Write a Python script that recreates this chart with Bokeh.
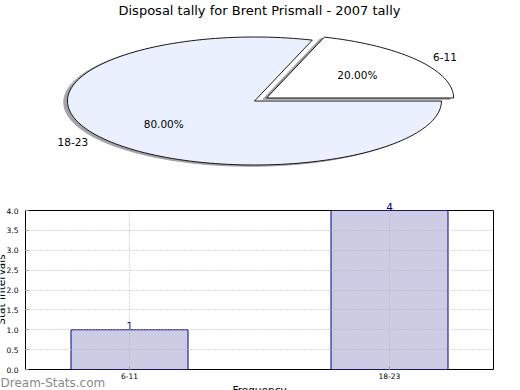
import math
from bokeh.plotting import figure
from bokeh.layouts import column
from bokeh.models import (Range1d, FactorRange, ColumnDataSource, Label,
                          SingleIntervalTicker, NumeralTickFormatter)
from bokeh.embed import file_html
from bokeh.resources import INLINE

# ---------------- data ----------------
title_text = "Disposal tally for Brent Prismall - 2007 tally"
pie_labels = ["6-11", "18-23"]
pie_values = [1, 4]
pie_colors = ["#ffffff", "#eaf0fd"]
pie_explode = [0.08, 0.0]

bar_categories = ["6-11", "18-23"]
bar_values = [1, 4]
y_min, y_max, y_step = 0.0, 4.0, 0.5
y_label = "Stat Intervals"
x_label = "Frequency"
watermark = "Dream-Stats.com"

FONT = "DejaVu Sans"
W, H = 520, 390

# ---------------- background figure: pie + free texts (pixel-like data units) ----------------
base = figure(width=W, height=H, x_range=Range1d(0, W), y_range=Range1d(H, 0),
              x_axis_location=None, y_axis_location=None,
              output_backend="svg", toolbar_location=None, min_border=0)
base.grid.visible = False
base.outline_line_color = None

cx, cy, rx, ry = 254.0, 100.5, 187.0, 64.0
total = float(sum(pie_values))
start = 0.0
sx, sy = -0.02 * rx, 0.02 * ry
for lab, v, col, ex in zip(pie_labels, pie_values, pie_colors, pie_explode):
    frac = v / total
    a0, a1 = start, start + 360.0 * frac
    mid = math.radians((a0 + a1) / 2)
    ox = cx + ex * rx * math.cos(mid)
    oy = cy - ex * ry * math.sin(mid)
    n = max(4, int((a1 - a0) / 2))
    ts = [math.radians(a0 + (a1 - a0) * i / n) for i in range(n + 1)]
    xs = [ox] + [ox + rx * math.cos(t) for t in ts] + [ox]
    ys = [oy] + [oy - ry * math.sin(t) for t in ts] + [oy]
    base.patch([x + sx for x in xs], [y + sy for y in ys], fill_color="#a4a4a6",
               line_color="#a4a4a6", line_width=1)
    base.patch(xs, ys, fill_color=col, line_color="#000000", line_width=0.9)
    lx = ox + 1.1 * rx * math.cos(mid)
    ly = oy - 1.1 * ry * math.sin(mid)
    base.add_layout(Label(x=lx, y=ly, text=lab, text_font=FONT, text_font_size="10.5px",
                          text_align="left" if math.cos(mid) > 0 else "right",
                          text_baseline="middle", text_color="#000000"))
    px = ox + 0.6 * rx * math.cos(mid)
    py = oy - 0.6 * ry * math.sin(mid)
    base.add_layout(Label(x=px, y=py, text="%.2f%%" % (100 * frac), text_font=FONT,
                          text_font_size="10.5px", text_align="center",
                          text_baseline="middle", text_color="#000000"))
    start = a1

base.add_layout(Label(x=259, y=10, text=title_text, text_font=FONT, text_font_size="13px",
                      text_align="center", text_baseline="middle", text_color="#000000"))

# ---------------- bar figure, overlaid on the same page area ----------------
BL, BR, BT, BB = 25, 27, 210, 21   # borders around the frame
PAD = 0.1                           # factor range padding (negative)
src = ColumnDataSource(dict(cat=bar_categories, val=bar_values))
bar = figure(width=W, height=H,
             x_range=FactorRange(factors=bar_categories, range_padding=-PAD,
                                 range_padding_units="absolute"),
             y_range=Range1d(y_min, y_max),
             output_backend="svg", toolbar_location=None,
             min_border_left=BL, min_border_right=BR, min_border_top=BT, min_border_bottom=BB,
             background_fill_color=None, border_fill_color=None, margin=(-H, 0, 0, 0))
bar.vbar(x="cat", top="val", width=0.45, source=src, fill_color="#ccccE5",
         line_color="#000080", line_width=1)

# do not align the two figures' frames (the background frame covers its whole canvas)
for fig in (base, bar):
    try:
        fig.frame_align = False
    except Exception:
        pass

bar.outline_line_color = "#000000"
bar.outline_line_width = 1
bar.yaxis.ticker = SingleIntervalTicker(interval=y_step)
bar.yaxis.formatter = NumeralTickFormatter(format="0.0")
for ax in (bar.xaxis[0], bar.yaxis[0]):
    ax.axis_line_color = None
    ax.major_tick_in = 3
    ax.major_tick_out = 0
    ax.major_tick_line_color = "#999999"
    ax.minor_tick_line_color = None
    ax.major_label_text_font = FONT
    ax.major_label_text_font_size = "7.5px"
    ax.major_label_text_color = "#000000"
    ax.major_label_standoff = 3
for g in (bar.xgrid[0], bar.ygrid[0]):
    g.grid_line_color = "#b4b4b4"
    g.grid_line_dash = "1 2"
    g.grid_line_width = 1
    g.level = "overlay"
bar.ygrid.ticker = SingleIntervalTicker(interval=y_step)

# value labels above the bars, computed from the data and the bar frame geometry
fw, fh = W - BL - BR, H - BT - BB
span = len(bar_categories) - 2 * PAD
for i, v in enumerate(bar_values):
    tx = BL + (i + 0.5 - PAD) / span * fw
    ty = BT + (1 - (v - y_min) / (y_max - y_min)) * fh
    base.add_layout(Label(x=tx, y=ty, text=str(v), text_font=FONT, text_font_size="10.5px",
                          text_color="#000080", text_align="center", text_baseline="bottom"))

# axis titles and watermark (outside the bar frame)
base.add_layout(Label(x=0, y=289, text=y_label, angle=math.pi / 2, text_font=FONT,
                      text_font_size="10.5px", text_align="center",
                      text_baseline="alphabetic", text_color="#000000"))
base.add_layout(Label(x=BL + fw / 2, y=389.5, text=x_label, text_font=FONT,
                      text_font_size="10.5px", text_align="center",
                      text_baseline="alphabetic", text_color="#000000"))
base.add_layout(Label(x=0, y=382, text=watermark, text_font=FONT, text_font_size="12px",
                      text_align="left", text_baseline="alphabetic", text_color="#8a8a8a"))

layout = column(base, bar, spacing=0, margin=0)
open("out.html", "w").write(file_html(layout, INLINE))
